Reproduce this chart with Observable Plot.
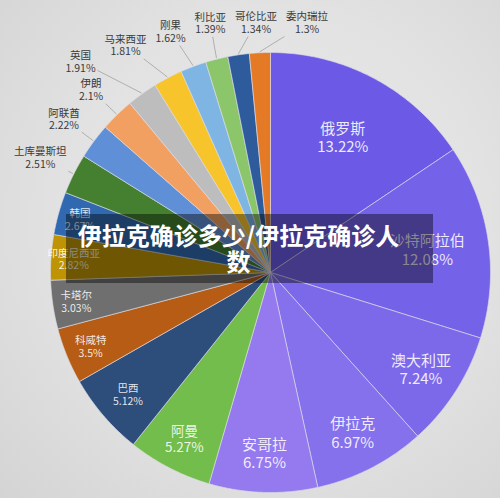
<!DOCTYPE html>
<html><head><meta charset="utf-8">
<script src="https://cdn.jsdelivr.net/npm/d3@7"></script>
<script src="https://cdn.jsdelivr.net/npm/@observablehq/plot@0.6"></script>
<style>
html,body{margin:0;padding:0;}
body{width:500px;height:498px;overflow:hidden;background:radial-gradient(circle at 55% 45%, #eaeaea 0%, #e2e2e2 55%, #d4d4d4 100%);}
#chart svg{display:block;}
</style>
</head><body><div id="chart"></div>
<script>
// ---- data ----
const countries = ["俄罗斯","沙特阿拉伯","澳大利亚","伊拉克","安哥拉","阿曼","巴西","科威特","卡塔尔","印度尼西亚","韩国","土库曼斯坦","阿联酋","伊朗","英国","马来西亚","刚果","利比亚","哥伦比亚","委内瑞拉"];
const shares = [13.22,12.08,7.24,6.97,6.75,5.27,5.12,3.5,3.03,2.82,2.67,2.51,2.22,2.1,1.91,1.81,1.62,1.39,1.34,1.3];
const colors = ["#6c5ae6","#7462e8","#7c69ea","#8571ec","#9479ef","#72bd4c","#2d4d7b","#b65c14","#6f6f6f","#bf9404","#3069b0","#44802f","#5f8fd6","#f2a062","#bdbdbd","#f7c52b","#7fb5e3","#8cc66a","#2d5b9b","#e47a26"];
const titleLines = ["伊拉克确诊多少/伊拉克确诊人","数"];

// ---- layout ----
const W = 500, H = 498, cx = 270, cy = 272, R = 220;
const arcs = d3.pie().sort(null).value(d => d)(shares);
const slices = arcs.map((p, i) => ({
  name: countries[i], value: shares[i], a0: p.startAngle, a1: p.endAngle,
  mid: (p.startAngle + p.endAngle) / 2
}));
const px = (a, r) => cx + r * Math.sin(a);
const py = (a, r) => cy - r * Math.cos(a);

const points = [];
for (const s of slices) {
  const n = Math.max(2, Math.ceil((s.a1 - s.a0) / 0.01));
  points.push({name: s.name, x: cx, y: cy});
  for (let k = 0; k <= n; k++) {
    const a = s.a0 + (s.a1 - s.a0) * k / n;
    points.push({name: s.name, x: px(a, R), y: py(a, R)});
  }
  points.push({name: s.name, x: cx, y: cy});
}

const fmt = d => d.name + "\n" + d.value + "%";
const inner = slices.filter(s => s.value >= 2.6).map(s => {
  const f = 0.95 - s.value * 0.019;
  return {...s, x: px(s.mid, R * f), y: py(s.mid, R * f)};
});
const innerBig = inner.filter(s => s.value >= 6.5);
const innerMid = inner.filter(s => s.value >= 5.2 && s.value < 6.5);
const innerSmall = inner.filter(s => s.value < 5.2);

// outer labels with simple overlap relaxation
const topLimit = 320 * Math.PI / 180;
const outer = slices.filter(s => s.value < 2.6).map(s => ({
  ...s, x: px(s.mid, R * 1.17), y: Math.max(py(s.mid, R * 1.17), 22),
  w: Math.max(s.name.length * 10.5, 30)
}));
for (let it = 0; it < 400; it++) {
  for (let i = 0; i < outer.length; i++) for (let j = i + 1; j < outer.length; j++) {
    const A = outer[i], B = outer[j];
    const dx = B.x - A.x, dy = B.y - A.y;
    const ox = (A.w + B.w) / 2 + 9 - Math.abs(dx);
    const oy = 28 - Math.abs(dy);
    if (ox > 0 && oy > 0) {
      if (A.mid > topLimit && B.mid > topLimit) { const sg = dx >= 0 ? 1 : -1; A.x -= sg * ox / 2; B.x += sg * ox / 2; }
      else { const sg = dy >= 0 ? 1 : -1; A.y -= sg * oy / 2; B.y += sg * oy / 2; }
    }
  }
}
for (const o of outer) {
  o.y = Math.max(o.y, 22);
  o.ax = px(o.mid, R + 1); o.ay = py(o.mid, R + 1);
  const dx = o.ax - o.x, dy = o.ay - o.y;
  const t = Math.min((o.w / 2 + 2) / Math.max(Math.abs(dx), 1e-6), 14 / Math.max(Math.abs(dy), 1e-6));
  o.bx = o.x + t * dx; o.by = o.y + t * dy;
}

const titleBox = [{x1: 66, x2: 433, y1: 214, y2: 283, tx: 238, ty: 249}];

const chart = Plot.plot({
  width: W, height: H, margin: 0,
  x: {domain: [0, W], range: [0, W], axis: null},
  y: {domain: [0, H], range: [0, H], axis: null},
  color: {domain: countries, range: colors},
  style: {background: "transparent", fontFamily: "'Noto Sans CJK SC', 'Noto Sans', sans-serif"},
  marks: [
    Plot.line(points, {x: "x", y: "y", z: "name", fill: "name", stroke: "#dcdce8", strokeWidth: 0.8, strokeOpacity: 0.8}),
    Plot.link(outer, {x1: "ax", y1: "ay", x2: "bx", y2: "by", stroke: "#8c8c8c", strokeWidth: 0.6}),
    Plot.text(outer, {x: "x", y: "y", text: fmt, fill: "#3a3a3a", fontSize: 10.5, lineHeight: 1.2}),
    Plot.text(innerBig, {x: "x", y: "y", text: fmt, fill: "#ffffff", fillOpacity: 0.88, fontSize: 15, lineHeight: 1.22}),
    Plot.text(innerMid, {x: "x", y: "y", text: fmt, fill: "#ffffff", fillOpacity: 0.88, fontSize: 13.5, lineHeight: 1.2}),
    Plot.text(innerSmall, {x: "x", y: "y", text: fmt, fill: "#ffffff", fillOpacity: 0.88, fontSize: 10.5, lineHeight: 1.22}),
    Plot.rect(titleBox, {x1: "x1", x2: "x2", y1: "y1", y2: "y2", fill: "#000", fillOpacity: 0.42}),
    Plot.text(titleBox, {x: "tx", y: "ty", text: () => titleLines.join("\n"), fill: "#ffffff", fontSize: 24, fontWeight: "bold", lineHeight: 1.08})
  ]
});
document.getElementById("chart").appendChild(chart);
</script>
</body></html>
